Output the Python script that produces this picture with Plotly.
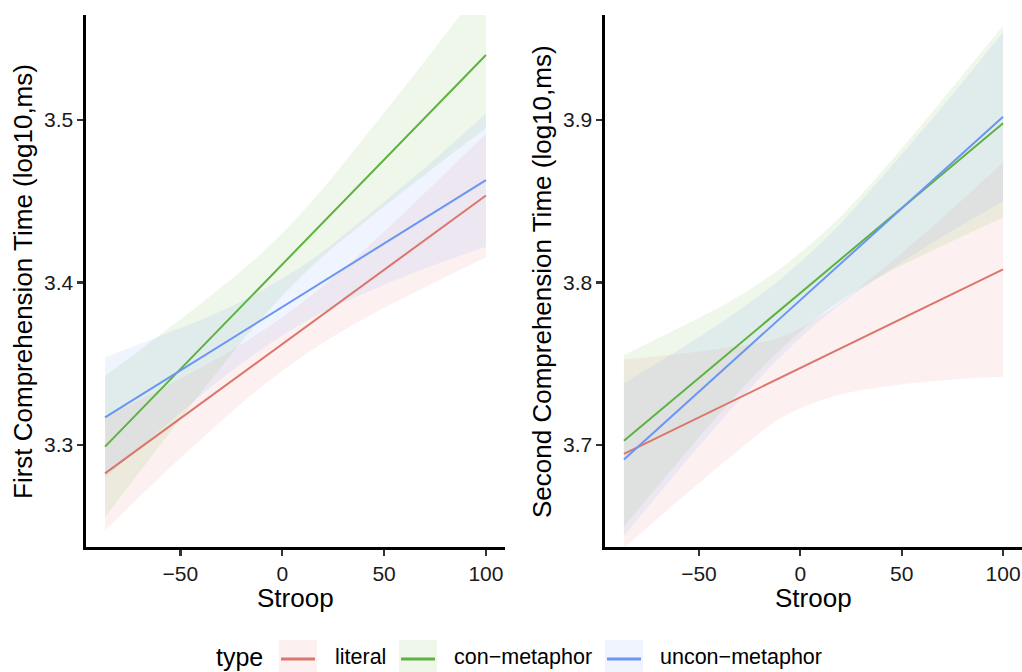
import plotly.graph_objects as go

# ---------------- data ----------------
types = ["literal", "con−metaphor", "uncon−metaphor"]
colors = ["#DC756B", "#5DB23F", "#6B95F3"]
fills = ["rgba(225,120,110,0.10)", "rgba(100,180,50,0.10)", "rgba(100,150,255,0.10)"]

band_x = [-87, -60, -35, -10, 15, 40, 70, 100]
line_x = [-87, 100]

# panel 1: First Comprehension Time
p1_lo = [
    [3.2475, 3.2802, 3.3090, 3.3359, 3.3587, 3.3776, 3.3970, 3.4155],
    [3.2555, 3.2998, 3.3400, 3.3782, 3.4105, 3.4367, 3.4663, 3.4950],
    [3.2800, 3.3091, 3.3356, 3.3591, 3.3786, 3.3932, 3.4086, 3.4220],
]
p1_hi = [
    [3.3175, 3.3342, 3.3510, 3.3699, 3.3927, 3.4196, 3.4550, 3.4915],
    [3.3425, 3.3678, 3.3920, 3.4182, 3.4505, 3.4887, 3.5363, 3.5850],
    [3.3540, 3.3671, 3.3796, 3.3951, 3.4146, 3.4392, 3.4706, 3.5040],
]
p1_line = [[3.2825, 3.4535], [3.2990, 3.5400], [3.3170, 3.4630]]

# panel 2: Second Comprehension Time
p2_lo = [
    [3.6365, 3.6659, 3.6921, 3.7162, 3.7294, 3.7356, 3.7398, 3.7420],
    [3.6499, 3.6900, 3.7262, 3.7585, 3.7847, 3.8040, 3.8225, 3.8400],
    [3.6440, 3.6845, 3.7207, 3.7539, 3.7821, 3.8043, 3.8281, 3.8500],
]
p2_hi = [
    [3.7525, 3.7559, 3.7601, 3.7662, 3.7834, 3.8076, 3.8398, 3.8740],
    [3.7553, 3.7720, 3.7882, 3.8085, 3.8347, 3.8680, 3.9125, 3.9580],
    [3.7380, 3.7585, 3.7787, 3.8019, 3.8301, 3.8643, 3.9081, 3.9540],
]
p2_line = [[3.6945, 3.8080], [3.7026, 3.8980], [3.6910, 3.9020]]

x_ticks = [-50, 0, 50, 100]
y1_ticks = [3.3, 3.4, 3.5]
y2_ticks = [3.7, 3.8, 3.9]

# ---------------- figure ----------------
W, H = 1022, 672
FONT = "Liberation Sans, Arial, Helvetica, sans-serif"

fig = go.Figure()

panels = [
    (p1_lo, p1_hi, p1_line, "x", "y"),
    (p2_lo, p2_hi, p2_line, "x2", "y2"),
]
for lo, hi, ln, xa, ya in panels:
    for i in range(3):
        fig.add_trace(go.Scatter(
            x=band_x, y=lo[i], mode="lines",
            line=dict(width=0, color=fills[i], shape="spline", smoothing=1.0),
            xaxis=xa, yaxis=ya, showlegend=False, hoverinfo="skip"))
        fig.add_trace(go.Scatter(
            x=band_x, y=hi[i], mode="lines", fill="tonexty", fillcolor=fills[i],
            line=dict(width=0, color=fills[i], shape="spline", smoothing=1.0),
            xaxis=xa, yaxis=ya, showlegend=False, hoverinfo="skip"))
    for i in range(3):
        fig.add_trace(go.Scatter(
            x=line_x, y=ln[i], mode="lines",
            line=dict(color=colors[i], width=2),
            xaxis=xa, yaxis=ya, showlegend=False, name=types[i]))

def px(x):
    return x / W

def py(y):
    return (H - y) / H

axis_common = dict(
    showline=True, linecolor="black", linewidth=2.6,
    ticks="outside", ticklen=6, tickwidth=2.2, tickcolor="#333333",
    showgrid=False, zeroline=False,
    tickfont=dict(family=FONT, size=21, color="#1a1a1a"),
)

fig.update_layout(
    width=W, height=H,
    margin=dict(l=0, r=0, t=0, b=0),
    paper_bgcolor="white", plot_bgcolor="white",
    showlegend=False,
    font=dict(family=FONT),
    xaxis=dict(domain=[px(86), px(505)], range=[-96.35, 109.35],
               tickvals=x_ticks, anchor="y", **axis_common),
    yaxis=dict(domain=[py(547), py(15)], range=[3.2372, 3.5646],
               tickvals=y1_ticks, anchor="x", **axis_common),
    xaxis2=dict(domain=[px(605), 1.0], range=[-96.35, 109.35],
                tickvals=x_ticks, anchor="y2", **axis_common),
    yaxis2=dict(domain=[py(547), py(15)], range=[3.6372, 3.9646],
                tickvals=y2_ticks, anchor="x2", **axis_common),
)

ann = []
title_font = dict(family=FONT, size=26, color="black")
ann.append(dict(text="Stroop", x=px(295), y=py(598), xref="paper", yref="paper",
                showarrow=False, font=title_font, xanchor="center", yanchor="middle"))
ann.append(dict(text="Stroop", x=px(813), y=py(598), xref="paper", yref="paper",
                showarrow=False, font=title_font, xanchor="center", yanchor="middle"))
ann.append(dict(text="First Comprehension Time (log10,ms)", x=px(23), y=py(282),
                xref="paper", yref="paper", showarrow=False, font=title_font,
                textangle=-90, xanchor="center", yanchor="middle"))
ann.append(dict(text="Second Comprehension Time (log10,ms)", x=px(542), y=py(282),
                xref="paper", yref="paper", showarrow=False, font=title_font,
                textangle=-90, xanchor="center", yanchor="middle"))

# legend (drawn manually to reproduce filled keys with a line)
ann.append(dict(text="type", x=px(214), y=py(657), xref="paper", yref="paper",
                showarrow=False, font=dict(family=FONT, size=25, color="black"),
                xanchor="left", yanchor="middle"))
key_x = [279, 399, 605]
lab_x = [333, 452, 658]
shapes = []
for i in range(3):
    shapes.append(dict(type="rect", xref="paper", yref="paper",
                       x0=px(key_x[i]), x1=px(key_x[i] + 38), y0=py(672), y1=py(640),
                       fillcolor=fills[i], line=dict(width=0)))
    shapes.append(dict(type="line", xref="paper", yref="paper",
                       x0=px(key_x[i] + 2), x1=px(key_x[i] + 36), y0=py(659), y1=py(659),
                       line=dict(color=colors[i], width=3)))
    ann.append(dict(text=types[i], x=px(lab_x[i]), y=py(657), xref="paper", yref="paper",
                    showarrow=False, font=dict(family=FONT, size=21.5, color="black"),
                    xanchor="left", yanchor="middle"))

fig.update_layout(annotations=ann, shapes=shapes)

fig.write_html("out.html",
               config={"displayModeBar": False, "staticPlot": True},
               post_script="document.body.style.margin='0';document.body.style.overflow='hidden';")
